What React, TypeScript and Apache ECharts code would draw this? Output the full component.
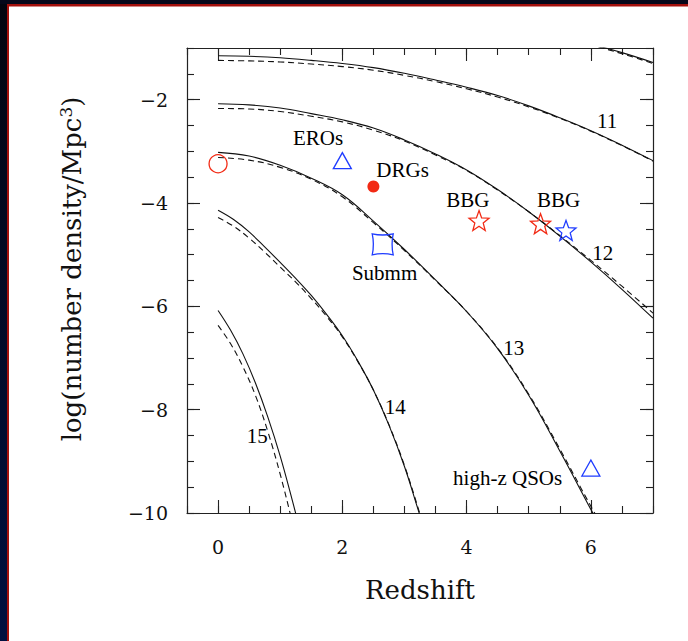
import React, { useEffect, useRef } from "react";
import * as echarts from "echarts";

// Halo number-density curves: [redshift, log n] for each log halo mass
const m10Solid: [number, number][] = [[5.5, -0.76], [6, -0.92], [6.5, -1.09], [7, -1.28]];
const m10Dashed: [number, number][] = [[5.5, -0.78], [6, -0.94], [6.5, -1.11], [7, -1.3]];

const m11Solid: [number, number][] = [
  [0, -1.15], [0.5, -1.16], [1, -1.19], [1.5, -1.24], [2, -1.3], [2.5, -1.38], [3, -1.49],
  [3.5, -1.62], [4, -1.76], [4.5, -1.92], [5, -2.12], [5.5, -2.35], [6, -2.6], [6.5, -2.88], [7, -3.18],
];
const m11Dashed: [number, number][] = [
  [0, -1.24], [0.5, -1.25], [1, -1.27], [1.5, -1.31], [2, -1.36], [2.5, -1.43], [3, -1.53],
  [3.5, -1.65], [4, -1.79], [4.5, -1.95], [5, -2.14], [5.5, -2.36], [6, -2.61], [6.5, -2.89], [7, -3.19],
];

const m12Solid: [number, number][] = [
  [0, -2.08], [0.5, -2.1], [1, -2.16], [1.5, -2.27], [2, -2.39], [2.5, -2.55], [3, -2.78],
  [3.5, -3.05], [4, -3.36], [4.5, -3.74], [5, -4.17], [5.5, -4.64], [6, -5.14], [6.5, -5.67], [7, -6.23],
];
const m12Dashed: [number, number][] = [
  [0, -2.17], [0.5, -2.18], [1, -2.23], [1.5, -2.32], [2, -2.43], [2.5, -2.59], [3, -2.8],
  [3.5, -3.07], [4, -3.37], [4.5, -3.75], [5, -4.17], [5.5, -4.63], [6, -5.11], [6.5, -5.61], [7, -6.13],
];

const m13Solid: [number, number][] = [
  [0, -3.02], [0.5, -3.09], [1, -3.27], [1.5, -3.52], [2, -3.84], [2.5, -4.35], [3, -4.9],
  [3.5, -5.49], [4, -6.1], [4.5, -6.82], [5, -7.72], [5.5, -8.8], [6, -9.93], [6.3, -10.6],
];
const m13Dashed: [number, number][] = [
  [0, -3.12], [0.5, -3.17], [1, -3.31], [1.5, -3.54], [2, -3.88], [2.5, -4.38], [3, -4.92],
  [3.5, -5.5], [4, -6.1], [4.5, -6.81], [5, -7.7], [5.5, -8.76], [6, -9.87], [6.3, -10.5],
];

const m14Solid: [number, number][] = [
  [0, -4.14], [0.25, -4.32], [0.5, -4.56], [0.75, -4.85], [1, -5.15], [1.25, -5.46], [1.5, -5.79],
  [1.75, -6.16], [2, -6.57], [2.25, -7.06], [2.5, -7.62], [2.75, -8.3], [3, -9.1], [3.25, -10.05], [3.4, -10.6],
];
const m14Dashed: [number, number][] = [
  [0, -4.28], [0.25, -4.45], [0.5, -4.68], [0.75, -4.95], [1, -5.24], [1.25, -5.53], [1.5, -5.85],
  [1.75, -6.2], [2, -6.59], [2.25, -7.07], [2.5, -7.62], [2.75, -8.29], [3, -9.08], [3.25, -10.02], [3.4, -10.6],
];

const m15Solid: [number, number][] = [
  [0, -6.08], [0.2, -6.46], [0.4, -6.92], [0.6, -7.48], [0.8, -8.14], [1.0, -8.9], [1.2, -9.78], [1.3, -10.25], [1.4, -10.75],
];
const m15Dashed: [number, number][] = [
  [0, -6.37], [0.2, -6.72], [0.4, -7.17], [0.6, -7.72], [0.8, -8.42], [1.0, -9.25], [1.2, -10.2], [1.3, -10.7],
];

// Curve mass labels
const massLabels: { name: string; value: [number, number] }[] = [
  { name: "11", value: [6.26, -2.41] },
  { name: "12", value: [6.19, -4.96] },
  { name: "13", value: [4.76, -6.81] },
  { name: "14", value: [2.85, -7.95] },
  { name: "15", value: [0.63, -8.51] },
];

// Observed populations
const localPoint: [number, number][] = [[0, -3.24]];
const eroPoint: [number, number][] = [[2.0, -3.18]];
const drgPoint: [number, number][] = [[2.5, -3.68]];
const bbgRedPoints: [number, number][] = [[4.2, -4.34], [5.19, -4.4]];
const bbgBluePoints: [number, number][] = [[5.6, -4.53]];
const submmPoint: [number, number][] = [[2.65, -4.8]];
const qsoPoint: [number, number][] = [[6.0, -9.13]];

const populationLabels: { name: string; value: [number, number] }[] = [
  { name: "EROs", value: [1.61, -2.75] },
  { name: "DRGs", value: [2.97, -3.37] },
  { name: "BBG", value: [4.02, -3.95] },
  { name: "BBG", value: [5.48, -3.95] },
  { name: "Submm", value: [2.68, -5.36] },
  { name: "high-z QSOs", value: [4.66, -9.32] },
];

const xMajorTicks = [0, 2, 4, 6];
const yMajorTicks = [-10, -8, -6, -4, -2];

const RED = "#f22a14";
const BLUE = "#1f3cff";
const SERIF = '"Liberation Serif", "Times New Roman", serif';
const AXIS_FONT = '"DejaVu Serif", serif';

function starPath(): string {
  const pts: string[] = [];
  for (let i = 0; i < 10; i++) {
    const r = i % 2 === 0 ? 10 : 4.2;
    const a = -Math.PI / 2 + (i * Math.PI) / 5;
    pts.push(`${(10 + r * Math.cos(a)).toFixed(2)},${(10 + r * Math.sin(a)).toFixed(2)}`);
  }
  return "path://M" + pts.join(" L") + " Z";
}
const STAR = starPath();
const PINCHED_SQUARE = "path://M0,0 Q10,2.2 20,0 Q17.8,10 20,20 Q10,17.8 0,20 Q2.2,10 0,0 Z";

function curve(data: [number, number][], dashed: boolean) {
  return {
    type: "line",
    data,
    smooth: 0.4,
    showSymbol: false,
    symbol: "none",
    clip: true,
    silent: true,
    z: 2,
    lineStyle: {
      color: "#111",
      width: 1.1,
      type: dashed ? [6, 4] : "solid",
    },
  };
}

function marker(data: [number, number][], symbol: string, size: number | number[], color: string, filled: boolean) {
  return {
    type: "scatter",
    data,
    symbol,
    symbolSize: size,
    z: 5,
    silent: true,
    itemStyle: filled
      ? { color, borderWidth: 0, opacity: 1 }
      : { color: "rgba(0,0,0,0)", borderColor: color, borderWidth: 1.3, opacity: 1 },
  };
}

function textSeries(data: { name: string; value: [number, number] }[]) {
  return {
    type: "scatter",
    data,
    symbol: "circle",
    symbolSize: 0.1,
    z: 6,
    silent: true,
    itemStyle: { color: "rgba(0,0,0,0)", opacity: 1 },
    label: {
      show: true,
      position: "inside",
      formatter: "{b}",
      color: "#000",
      opacity: 1,
      textBorderWidth: 0,
      textBorderColor: "transparent",
      fontFamily: SERIF,
      fontSize: 21,
    },
  };
}

const fmtNum = (v: number) => (v < 0 ? "\u2212" + Math.abs(v) : String(v));

function xAxes() {
  const base = {
    type: "value",
    min: -0.5,
    max: 7,
    gridIndex: 0,
    splitLine: { show: false },
  };
  const minor = (position: string) => ({
    ...base,
    position,
    interval: 0.5,
    axisLine: { show: true, onZero: false, lineStyle: { color: "#222", width: 1.2 } },
    axisTick: { show: true, inside: true, length: 7, lineStyle: { color: "#222", width: 1.1 } },
    axisLabel: { show: false },
  });
  const major = (position: string, labels: boolean) => ({
    ...base,
    position,
    axisLine: { show: false, onZero: false },
    axisTick: { show: true, inside: true, length: 13, customValues: xMajorTicks, lineStyle: { color: "#222", width: 1.1 } },
    axisLabel: labels
      ? { show: true, customValues: xMajorTicks, formatter: fmtNum, margin: 24, color: "#111", fontFamily: AXIS_FONT, fontSize: 19 }
      : { show: false },
  });
  return [minor("bottom"), major("bottom", true), minor("top"), major("top", false)];
}

function yAxes() {
  const base = {
    type: "value",
    min: -10,
    max: -1,
    gridIndex: 0,
    splitLine: { show: false },
  };
  const minor = (position: string) => ({
    ...base,
    position,
    interval: 0.5,
    axisLine: { show: true, onZero: false, lineStyle: { color: "#222", width: 1.2 } },
    axisTick: { show: true, inside: true, length: 7, lineStyle: { color: "#222", width: 1.1 } },
    axisLabel: { show: false },
  });
  const major = (position: string, labels: boolean) => ({
    ...base,
    position,
    axisLine: { show: false, onZero: false },
    axisTick: { show: true, inside: true, length: 13, customValues: yMajorTicks, lineStyle: { color: "#222", width: 1.1 } },
    axisLabel: labels
      ? { show: true, customValues: yMajorTicks, formatter: fmtNum, margin: 19, color: "#111", fontFamily: AXIS_FONT, fontSize: 19 }
      : { show: false },
  });
  return [minor("left"), major("left", true), minor("right"), major("right", false)];
}

export default function App() {
  const ref = useRef<HTMLDivElement | null>(null);

  useEffect(() => {
    if (!ref.current) return;
    const chart = echarts.init(ref.current, undefined, { renderer: "svg" });

    const option = {
      animation: false,
      backgroundColor: "#ffffff",
      grid: { left: 187, top: 48, width: 466, height: 465, containLabel: false },
      xAxis: xAxes(),
      yAxis: yAxes(),
      graphic: [
        // frame of the slide
        {
          type: "rect",
          shape: { x: 0, y: 0, width: 7, height: 641 },
          style: {
            fill: new echarts.graphic.LinearGradient(0, 0, 0, 1, [
              { offset: 0, color: "#03050f" },
              { offset: 1, color: "#001040" },
            ]),
          },
          silent: true,
        },
        { type: "rect", shape: { x: 0, y: 0, width: 688, height: 4 }, style: { fill: "#05081a" }, silent: true },
        { type: "rect", shape: { x: 7, y: 4, width: 2, height: 637 }, style: { fill: "#a3100c" }, silent: true },
        { type: "rect", shape: { x: 7, y: 4, width: 681, height: 2.5 }, style: { fill: "#a3100c" }, silent: true },
        // axis titles
        {
          type: "text",
          x: 420,
          y: 590,
          silent: true,
          style: {
            text: "Redshift",
            font: `26px ${AXIS_FONT}`,
            fill: "#111",
            textAlign: "center",
            textVerticalAlign: "middle",
          },
        },
        {
          type: "text",
          x: 72,
          y: 269,
          rotation: Math.PI / 2,
          silent: true,
          style: {
            text: "{t|log(number density/Mpc}{s|3}{t|)}",
            fill: "#111",
            textAlign: "center",
            textVerticalAlign: "middle",
            rich: {
              t: { fontFamily: AXIS_FONT, fontSize: 26, lineHeight: 30, fill: "#111" },
              s: { fontFamily: AXIS_FONT, fontSize: 17, lineHeight: 30, verticalAlign: "top", fill: "#111" },
            },
          },
        },
      ],
      series: [
        curve(m10Solid, false),
        curve(m10Dashed, true),
        curve(m11Solid, false),
        curve(m11Dashed, true),
        curve(m12Solid, false),
        curve(m12Dashed, true),
        curve(m13Solid, false),
        curve(m13Dashed, true),
        curve(m14Solid, false),
        curve(m14Dashed, true),
        curve(m15Solid, false),
        curve(m15Dashed, true),
        marker(localPoint, "circle", 18, RED, false),
        marker(eroPoint, "triangle", [18, 16], BLUE, false),
        marker(drgPoint, "circle", 12, RED, true),
        marker(bbgRedPoints, STAR, 20, RED, false),
        marker(bbgBluePoints, STAR, 20, BLUE, false),
        marker(submmPoint, PINCHED_SQUARE, 21, BLUE, false),
        marker(qsoPoint, "triangle", [18, 16], BLUE, false),
        textSeries(massLabels),
        textSeries(populationLabels),
      ],
    };

    chart.setOption(option as any);
    return () => chart.dispose();
  }, []);

  return (
    <div
      ref={ref}
      style={{ position: "absolute", left: 0, top: 0, width: 688, height: 641, background: "#fff" }}
    />
  );
}
